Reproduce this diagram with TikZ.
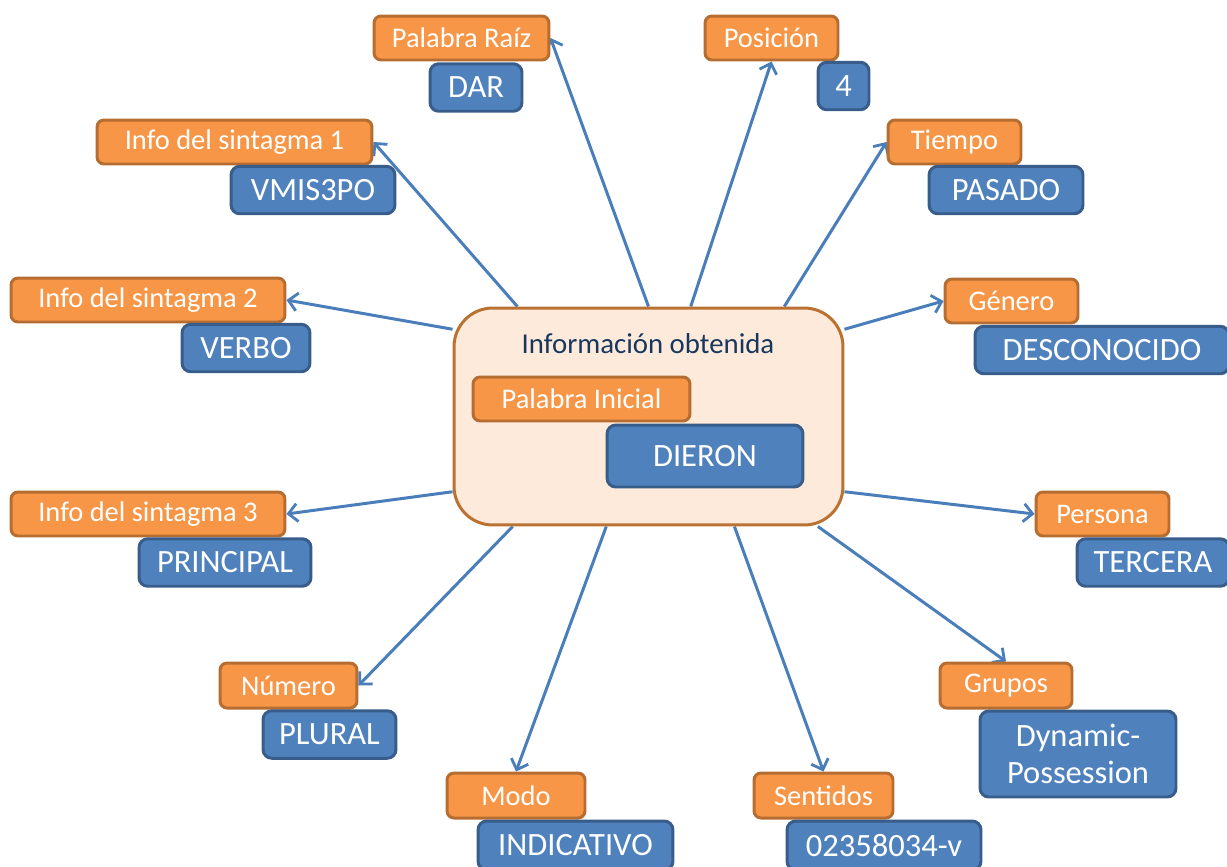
\documentclass[tikz,border=0pt]{standalone}
\usepackage{fontspec}
\setmainfont{Carlito}
\usetikzlibrary{arrows.meta,backgrounds,positioning}

\definecolor{lblfill}{HTML}{F79646}
\definecolor{lbldraw}{HTML}{B66D31}
\definecolor{valfill}{HTML}{4F81BD}
\definecolor{valdraw}{HTML}{385D8A}
\definecolor{infofill}{HTML}{FDEADA}
\definecolor{infodraw}{HTML}{BA7233}
\definecolor{linkcol}{HTML}{4A7EBB}
\definecolor{titlecol}{HTML}{17375E}

\begin{document}
\begin{tikzpicture}[x=0.02cm, y=-0.02cm,
	lbl/.style = {draw=lbldraw, fill=lblfill, line width=1.7pt, rounded corners=4pt,
		text=white, inner sep=0pt, align=center, font=\fontsize{16.2}{18}\selectfont,
		minimum height=0.88cm},
	val/.style = {draw=valdraw, fill=valfill, line width=1.7pt, rounded corners=5pt,
		text=white, inner sep=0pt, align=center, font=\fontsize{18.5}{21.5}\selectfont,
		minimum height=0.95cm},
	infobox/.style = {draw=infodraw, fill=infofill, line width=1.7pt, rounded corners=22pt,
		minimum width=7.78cm, minimum height=4.34cm, inner sep=0pt},
	link/.style = {draw=linkcol, line width=1.7pt,
		-{Straight Barb[length=1.8mm, width=3.6mm, line width=1.6pt]}}]
	\clip (0,0) rectangle (1227,866);

	% caja central
	\node [infobox] (info) at (648.5,416.5) {};
	\node [text=titlecol, font=\fontsize{16.4}{19}\selectfont] (titulo) at (648,344) {Información obtenida};
	\node [lbl, minimum width=4.34cm] (inicial) at (581.5,399) {Palabra Inicial};
	\node [val, minimum width=3.92cm, minimum height=1.24cm] (dieron) at (705,456) {DIERON};

	% arriba
	\node [lbl, minimum width=3.5cm] (raiz) at (461.5,38) {Palabra Raíz};
	\node [val, minimum width=1.84cm] (dar) at (476,87.5) {DAR};
	\node [lbl, minimum width=2.66cm] (posicion) at (771.5,38) {Posición};
	\node [val, minimum width=1.02cm] (cuatro) at (843.5,86) {4};
	\node [lbl, minimum width=5.5cm] (sint1) at (234.5,142) {Info del sintagma 1};
	\node [val, minimum width=3.28cm] (vmis) at (313,190) {VMIS3PO};
	\node [lbl, minimum width=2.66cm] (tiempo) at (954.5,142) {Tiempo};
	\node [val, minimum width=3.08cm] (pasado) at (1006,190) {PASADO};

	% lados
	\node [lbl, minimum width=5.48cm] (sint2) at (148,300) {Info del sintagma 2};
	\node [val, minimum width=2.56cm] (verbo) at (246,348) {VERBO};
	\node [lbl, minimum width=2.66cm] (genero) at (1011.5,301) {Género};
	\node [val, minimum width=5.08cm] (desconocido) at (1102,350) {DESCONOCIDO};
	\node [lbl, minimum width=5.48cm] (sint3) at (148,514) {Info del sintagma 3};
	\node [val, minimum width=3.44cm] (principal) at (225,562.5) {PRINCIPAL};
	\node [lbl, minimum width=2.66cm] (persona) at (1102.5,514) {Persona};
	\node [val, minimum width=3.04cm] (tercera) at (1153,562.5) {TERCERA};

	% abajo
	\node [lbl, minimum width=2.74cm, minimum height=0.9cm] (numero) at (288.5,685.5) {Número};
	\node [val, minimum width=2.66cm] (plural) at (329.5,734.5) {PLURAL};
	\node [lbl, minimum width=2.64cm, minimum height=0.9cm] (grupos) at (1006,685.5) {Grupos};
	\node [val, minimum width=3.92cm, minimum height=1.72cm] (dynamic) at (1078,754) {Dynamic-\\Possession};
	\node [lbl, minimum width=2.76cm, minimum height=0.9cm] (modo) at (516,795.5) {Modo};
	\node [val, minimum width=3.9cm, minimum height=0.98cm] (indicativo) at (575.5,845.5) {INDICATIVO};
	\node [lbl, minimum width=2.78cm, minimum height=0.9cm] (sentidos) at (823.5,795.5) {Sentidos};
	\node [val, minimum width=3.88cm, minimum height=0.98cm] (sentido) at (884,845.5) {02358034-v};

	% flechas
	\begin{scope}[on background layer]
		\draw [link] (info.90) -- (raiz.east);
		\draw [link] (info.69) -- (posicion.south);
		\draw [link] (info.140) -- (sint1.east);
		\draw [link] (info.39) -- (tiempo.west);
		\draw [link] (info.156) -- (sint2.east);
		\draw [link] (info.24) -- (genero.west);
		\draw [link] (info.201) -- (sint3.east);
		\draw [link] (info.339) -- (persona.west);
		\draw [link] (info.219) -- (numero.east);
		\draw [link] (info.327) -- (grupos.north);
		\draw [link] (info.249) -- (modo.north);
		\draw [link] (info.308) -- (sentidos.north);
	\end{scope}
\end{tikzpicture}
\end{document}
